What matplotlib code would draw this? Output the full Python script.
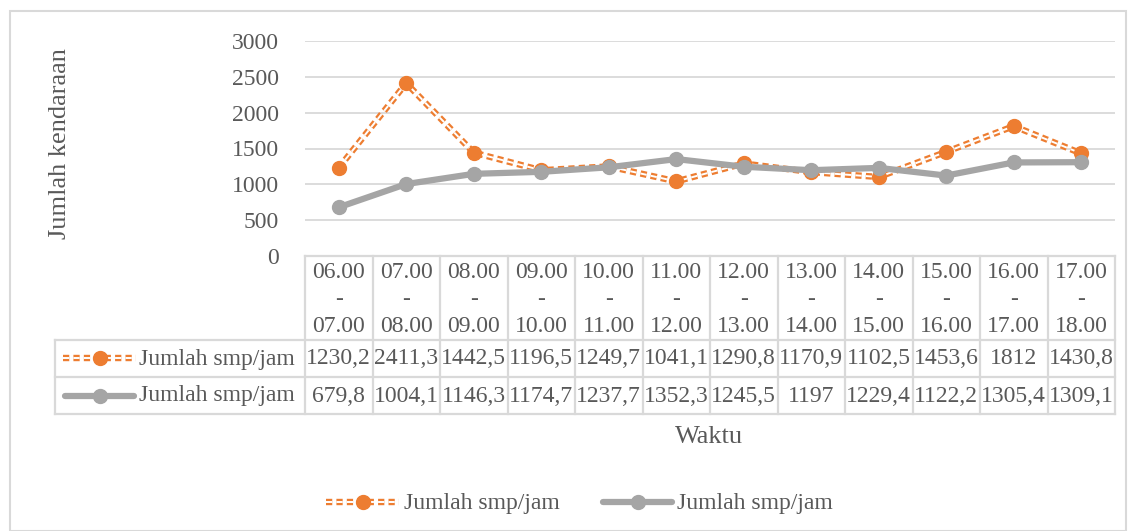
import matplotlib.pyplot as plt
import matplotlib.lines as mlines
import numpy as np

plt.rcParams['font.family'] = ['Liberation Serif', 'DejaVu Serif']
plt.rcParams['lines.scale_dashes'] = False

jam_mulai = ['06.00', '07.00', '08.00', '09.00', '10.00', '11.00',
             '12.00', '13.00', '14.00', '15.00', '16.00', '17.00']
jam_akhir = ['07.00', '08.00', '09.00', '10.00', '11.00', '12.00',
             '13.00', '14.00', '15.00', '16.00', '17.00', '18.00']
smp_1 = [1230.2, 2411.3, 1442.5, 1196.5, 1249.7, 1041.1,
         1290.8, 1170.9, 1102.5, 1453.6, 1812, 1430.8]
smp_2 = [679.8, 1004.1, 1146.3, 1174.7, 1237.7, 1352.3,
         1245.5, 1197, 1229.4, 1122.2, 1305.4, 1309.1]
nama_seri = ['Jumlah smp/jam', 'Jumlah smp/jam']
y_ticks = [0, 500, 1000, 1500, 2000, 2500, 3000]

W, H = 1136, 531
teks = '#595959'
garis = '#d9d9d9'
oranye = '#ed7d31'
abu = '#a5a5a5'
fs = 17
fs_judul = 19
pola = (0, (4.5, 3))


def fx(px):
    return px / W


def fy(py):
    return 1 - py / H


def fmt(v):
    s = ('%.1f' % v).rstrip('0').rstrip('.')
    return s.replace('.', ',')


fig = plt.figure(figsize=(W / 100, H / 100), dpi=100)
ax = fig.add_axes([fx(305), fy(256), fx(1115) - fx(305), fy(41) - fy(256)])

x = np.arange(len(smp_1))

# double dashed line: orange dashes with a thin white core
ax.plot(x, smp_1, color=oranye, lw=4.6, ls=pola, dash_capstyle='butt', zorder=3)
ax.plot(x, smp_1, color='white', lw=1.4, ls=pola, dash_capstyle='butt', zorder=3)
ax.plot(x, smp_1, ls='none', marker='o', ms=10, color=oranye, zorder=4)
ax.plot(x, smp_2, color=abu, lw=4.5, marker='o', ms=10, zorder=5,
        solid_capstyle='round')

ax.set_xlim(-0.5, len(x) - 0.5)
ax.set_ylim(0, 3000)
ax.set_yticks(y_ticks)
ax.set_yticklabels([str(t) for t in y_ticks], fontsize=fs, color=teks)
ax.tick_params(axis='y', length=0, pad=19)
ax.set_xticks([])
ax.grid(axis='y', color=garis, lw=1.3)
for s in ax.spines.values():
    s.set_visible(False)

# data table below the plot
lw_t = 1.6
kolom = np.linspace(305, 1115, len(x) + 1)
for px in kolom:
    fig.add_artist(mlines.Line2D([fx(px)] * 2, [fy(256), fy(414)], color=garis, lw=lw_t))
fig.add_artist(mlines.Line2D([fx(305), fx(1115)], [fy(256)] * 2, color=garis, lw=lw_t))
for py in (340, 377, 414):
    fig.add_artist(mlines.Line2D([fx(55), fx(1115)], [fy(py)] * 2, color=garis, lw=lw_t))
fig.add_artist(mlines.Line2D([fx(55)] * 2, [fy(340), fy(414)], color=garis, lw=lw_t))

for i in range(len(x)):
    cx = fx((kolom[i] + kolom[i + 1]) / 2)
    fig.text(cx, fy(272), jam_mulai[i], ha='center', va='center', fontsize=fs, color=teks)
    fig.text(cx, fy(300), '-', ha='center', va='center', fontsize=fs, color=teks)
    fig.text(cx, fy(327), jam_akhir[i], ha='center', va='center', fontsize=fs, color=teks)
    fig.text(cx, fy(359), fmt(smp_1[i]), ha='center', va='center', fontsize=fs, color=teks)
    fig.text(cx, fy(396), fmt(smp_2[i]), ha='center', va='center', fontsize=fs, color=teks)


def kunci(x0, x1, py, jenis):
    xs = [fx(x0), fx(x1)]
    ys = [fy(py)] * 2
    xm = [fx((x0 + x1) / 2)]
    if jenis == 0:
        fig.add_artist(mlines.Line2D(xs, ys, color=oranye, lw=4.6, ls=pola,
                                     dash_capstyle='butt'))
        fig.add_artist(mlines.Line2D(xs, ys, color='white', lw=1.4, ls=pola,
                                     dash_capstyle='butt'))
        fig.add_artist(mlines.Line2D(xm, [fy(py)], ls='none', marker='o', ms=10, color=oranye))
    else:
        fig.add_artist(mlines.Line2D(xs, ys, color=abu, lw=4.5, solid_capstyle='round'))
        fig.add_artist(mlines.Line2D(xm, [fy(py)], ls='none', marker='o', ms=10, color=abu))


kunci(63, 136, 358, 0)
fig.text(fx(139), fy(359), nama_seri[0], ha='left', va='center', fontsize=fs, color=teks)
kunci(65, 134, 396, 1)
fig.text(fx(139), fy(396), nama_seri[1], ha='left', va='center', fontsize=fs, color=teks)

# legend at the bottom
kunci(326, 399, 502, 0)
fig.text(fx(404), fy(503), nama_seri[0], ha='left', va='center', fontsize=fs, color=teks)
kunci(603, 672, 502, 1)
fig.text(fx(677), fy(503), nama_seri[1], ha='left', va='center', fontsize=fs, color=teks)

fig.text(fx(60), fy(144), 'Jumlah kendaraan', rotation=90, ha='center', va='center',
         fontsize=fs_judul, color=teks)
fig.text(fx(709), fy(437), 'Waktu', ha='center', va='center', fontsize=fs_judul, color=teks)

# chart border
fig.add_artist(plt.Rectangle((fx(10), fy(531)), fx(1126) - fx(10), fy(11) - fy(531),
                             fill=False, edgecolor=garis, lw=1.5))

fig.savefig('out.png', dpi=100)
